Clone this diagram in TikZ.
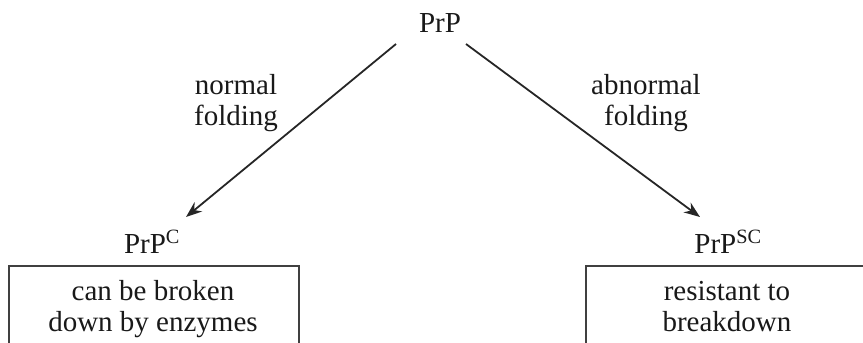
\documentclass[tikz,border=0pt]{standalone}
\usepackage{fontspec}
\setmainfont{Liberation Serif}
\usetikzlibrary{arrows.meta}
\begin{document}
\begin{tikzpicture}[x=1pt,y=-1pt,
  txt/.style={inner sep=0pt, align=center, font=\fontsize{29}{31}\selectfont, text=black!90},
  arr/.style={line width=1.8pt, draw=black!85, -{Stealth[length=16pt,width=12pt]}},
  boxed/.style={draw=black!75, line width=2.2pt, inner sep=0pt, rectangle}]
\useasboundingbox (0,0) rectangle (863,343);
% texts
\node[txt, anchor=base] (prp) at (440,32) {PrP};
\node[txt, anchor=base] (prpc) at (152,253) {PrP\textsuperscript{C}};
\node[txt, anchor=base] (prpsc) at (728,253) {PrP\textsuperscript{SC}};
\node[txt, anchor=base] (lnormal) at (236,125) {normal\\folding};
\node[txt, anchor=base] (labnormal) at (646,125) {abnormal\\folding};
% boxes
\node[boxed, anchor=north west, minimum width=290pt, minimum height=120pt] (boxL) at (8,265) {};
\node[boxed, anchor=north west, minimum width=320pt, minimum height=120pt] (boxR) at (585,265) {};
\node[txt, anchor=base] (tL) at (153,331) {can be broken\\down by enzymes};
\node[txt, anchor=base] (tR) at (727,331) {resistant to\\breakdown};
% connectors
\coordinate (sL) at (396,44);
\coordinate (sR) at (466,44);
\coordinate (eL) at (186,217);
\coordinate (eR) at (700,217);
\draw[arr] (sL) -- (eL);
\draw[arr] (sR) -- (eR);
\end{tikzpicture}
\end{document}
